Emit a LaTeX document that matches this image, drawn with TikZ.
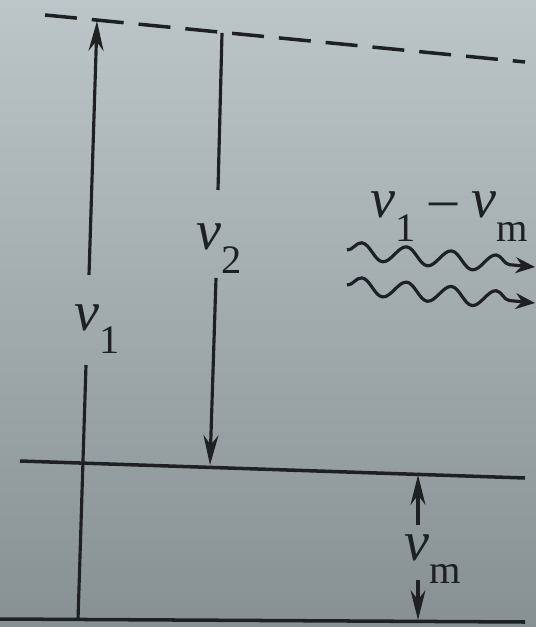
\documentclass[tikz,border=0pt]{standalone}
\usepackage{fontspec}
\setmainfont{Liberation Serif}
\usetikzlibrary{arrows.meta,decorations.pathmorphing,calc}
\definecolor{ink}{RGB}{30,32,34}
\definecolor{bgtop}{RGB}{188,198,201}
\definecolor{bgbot}{RGB}{135,145,147}
\newcommand{\nusub}[1]{{\itshape ν}\raisebox{-0.42em}{\fontsize{23}{25}\selectfont #1}}
\tikzset{
  lvl/.style={draw=ink,line width=2pt},
  virt/.style={draw=ink,line width=2pt,dash pattern=on 0.64cm off 0.3cm},
  trans/.style={draw=ink,line width=1.8pt},
  tipped/.style={trans,-{Stealth[length=17pt,width=8.5pt]}},
  wave/.style={draw=ink,line width=1.8pt,decorate,
    decoration={snake,segment length=0.9cm,amplitude=0.17cm,post length=0.35cm},
    -{Stealth[length=11pt,width=9pt]}},
  lab/.style={text=ink,inner sep=0pt,anchor=base west,font=\fontsize{32}{36}\selectfont}
}
\begin{document}
\begin{tikzpicture}
\shade[top color=bgtop,bottom color=bgbot] (0,0) rectangle (10.72,-12.54);
\useasboundingbox (0,0) rectangle (10.72,-12.54);
% levels
\coordinate (dL) at (0.9,-0.30);  \coordinate (dR) at (10.5,-1.24);
\coordinate (mL) at (0.4,-9.22);  \coordinate (mR) at (10.5,-9.56);
\coordinate (bL) at (0,-12.38);   \coordinate (bR) at (10.5,-12.44);
\draw[virt] (dL) -- (dR);
\draw[lvl] (mL) -- (mR);
\draw[lvl] (bL) -- (bR);
% nu_1 (upward)
\coordinate (a1b) at (1.56,-12.4);
\coordinate (a1g1) at (1.72,-7.3);
\coordinate (a1g2) at (1.78,-5.5);
\coordinate (a1t) at (1.94,-0.42);
\node[lab] (l1) at (1.48,-6.6) {\nusub{1}};
\draw[trans] (a1b) -- (a1g1);
\draw[tipped] (a1g2) -- (a1t);
% nu_2 (downward)
\coordinate (a2t) at (4.44,-0.66);
\coordinate (a2g1) at (4.36,-3.8);
\coordinate (a2g2) at (4.32,-5.56);
\coordinate (a2b) at (4.2,-9.3);
\node[lab] (l2) at (3.92,-5.0) {\nusub{2}};
\draw[trans] (a2t) -- (a2g1);
\draw[tipped] (a2g2) -- (a2b);
% nu_m
\coordinate (m1s) at (8.36,-10.5);
\coordinate (m1t) at (8.36,-9.5);
\coordinate (m2s) at (8.36,-11.6);
\coordinate (m2t) at (8.36,-12.4);
\node[lab] (lm) at (8.08,-11.2) {\nusub{m}};
\draw[tipped] (m1s) -- (m1t);
\draw[tipped] (m2s) -- (m2t);
% scattered waves
\node[lab] (lw) at (7.4,-4.36) {\nusub{1} – \nusub{m}};
\coordinate (w1s) at (6.94,-5.0);  \coordinate (w1e) at (10.7,-5.34);
\coordinate (w2s) at (6.94,-5.7);  \coordinate (w2e) at (10.7,-6.06);
\draw[wave] (w1s) -- (w1e);
\draw[wave] (w2s) -- (w2e);
\end{tikzpicture}
\end{document}
